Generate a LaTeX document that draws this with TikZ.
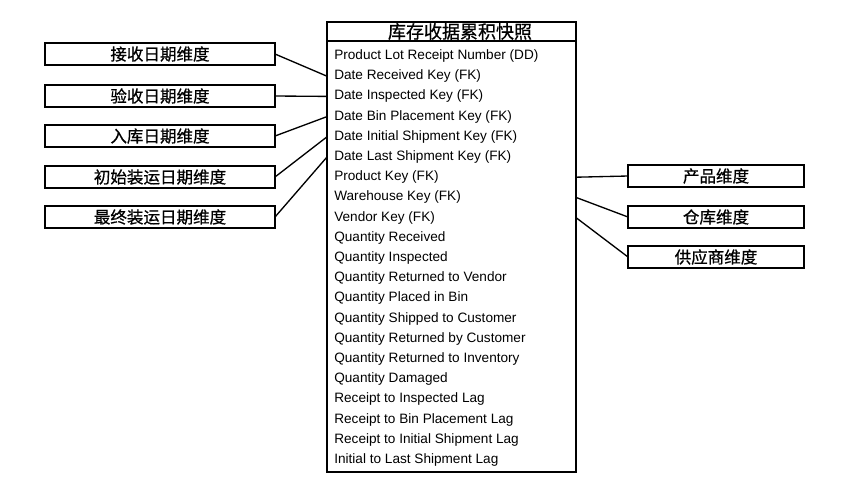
\documentclass[tikz,border=0pt]{standalone}
\usepackage{fontspec}
\setmainfont{Liberation Sans}
\newfontfamily\cjk[FakeBold=0.7]{Noto Sans CJK SC}
\usepackage{tikz}

\tikzset{
  dimbox/.style={draw, line width=1pt, inner sep=0pt, outer sep=0pt, minimum height=16.5pt, font=\cjk\fontsize{12.4}{14}\selectfont},
  leftdim/.style={dimbox, minimum width=172.5pt},
  rightdim/.style={dimbox, minimum width=132pt},
  fieldrow/.style={anchor=west, inner xsep=5.5pt, inner ysep=0pt, outer sep=0pt, font=\fontsize{10.2}{12}\selectfont},
  link/.style={line width=1pt}
}

\begin{document}
\begin{tikzpicture}
[x=0.75pt,y=0.75pt,yscale=-1,xscale=1]
\useasboundingbox (0,0) rectangle (868,490);

% fact table frame
\node [draw, line width=1pt, inner sep=0pt, outer sep=0pt, minimum width=186.75pt, minimum height=337.5pt] (tbl) at (451.5,247) {};
\coordinate (hdl) at (327,41);
\draw [line width=1pt] (hdl) -- (hdl -| tbl.east);
\node [font=\cjk\fontsize{13.5}{15}\selectfont, inner sep=0pt] (title) at (460,31.5) {库存收据累积快照};

% fields
\node [fieldrow] (r0) at (327,56) {Product Lot Receipt Number (DD)};
\node [fieldrow] (r1) at (327,76.2) {Date Received Key (FK)};
\node [fieldrow] (r2) at (327,96.4) {Date Inspected Key (FK)};
\node [fieldrow] (r3) at (327,116.6) {Date Bin Placement Key (FK)};
\node [fieldrow] (r4) at (327,136.8) {Date Initial Shipment Key (FK)};
\node [fieldrow] (r5) at (327,157) {Date Last Shipment Key (FK)};
\node [fieldrow] (r6) at (327,177.2) {Product Key (FK)};
\node [fieldrow] (r7) at (327,197.4) {Warehouse Key (FK)};
\node [fieldrow] (r8) at (327,217.6) {Vendor Key (FK)};
\node [fieldrow] (r9) at (327,237.8) {Quantity Received};
\node [fieldrow] (r10) at (327,258) {Quantity Inspected};
\node [fieldrow] (r11) at (327,278.2) {Quantity Returned to Vendor};
\node [fieldrow] (r12) at (327,298.4) {Quantity Placed in Bin};
\node [fieldrow] (r13) at (327,318.6) {Quantity Shipped to Customer};
\node [fieldrow] (r14) at (327,338.8) {Quantity Returned by Customer};
\node [fieldrow] (r15) at (327,359) {Quantity Returned to Inventory};
\node [fieldrow] (r16) at (327,379.2) {Quantity Damaged};
\node [fieldrow] (r17) at (327,399.4) {Receipt to Inspected Lag};
\node [fieldrow] (r18) at (327,419.6) {Receipt to Bin Placement Lag};
\node [fieldrow] (r19) at (327,439.8) {Receipt to Initial Shipment Lag};
\node [fieldrow] (r20) at (327,460) {Initial to Last Shipment Lag};

% date dimensions
\node [leftdim] (recvdim) at (160,54) {接收日期维度};
\node [leftdim] (inspdim) at (160,96) {验收日期维度};
\node [leftdim] (bindim) at (160,136) {入库日期维度};
\node [leftdim] (firstdim) at (160,177) {初始装运日期维度};
\node [leftdim] (lastdim) at (160,217) {最终装运日期维度};

% other dimensions
\node [rightdim] (proddim) at (716,176) {产品维度};
\node [rightdim] (whdim) at (716,217) {仓库维度};
\node [rightdim] (venddim) at (716,257) {供应商维度};

\draw [link] (recvdim.east) -- (r1.west);
\draw [link] (inspdim.east) -- (r2.west);
\draw [link] (bindim.east) -- (r3.west);
\draw [link] (firstdim.east) -- (r4.west);
\draw [link] (lastdim.east) -- (r5.west);

\draw [link] (r6 -| tbl.east) -- (proddim.west);
\draw [link] (r7 -| tbl.east) -- (whdim.west);
\draw [link] (r8 -| tbl.east) -- (venddim.west);

\end{tikzpicture}
\end{document}
